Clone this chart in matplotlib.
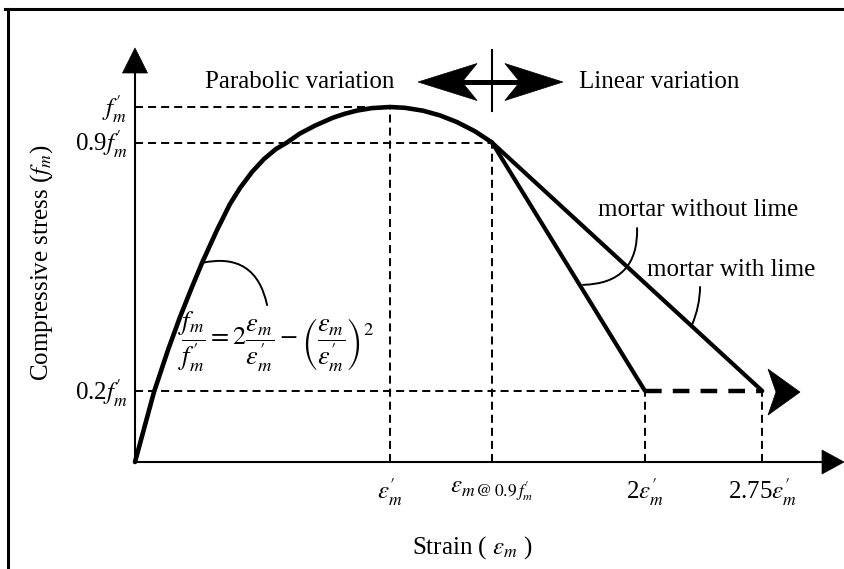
import numpy as np
import matplotlib.pyplot as plt
from matplotlib.patches import Polygon
from matplotlib.lines import Line2D

plt.rcParams['font.family'] = ['Liberation Serif', 'DejaVu Serif']
plt.rcParams['mathtext.fontset'] = 'stix'
plt.rcParams['lines.scale_dashes'] = False

# strain in units of eps'_m (as drawn on the schematic), stress in units of f'_m
curve_strain = [0, 0.0745, 0.1294, 0.1765, 0.2235, 0.2627, 0.3216, 0.3725, 0.4118,
                0.4588, 0.5059, 0.5529, 0.5961, 0.6471, 0.7059, 0.7765, 0.8235, 0.8706,
                0.9294, 1.0, 1.0588, 1.1294, 1.1961, 1.2627, 1.3333, 1.4]
curve_stress = [0, 0.1972, 0.3155, 0.4085, 0.4930, 0.5606, 0.6535, 0.7268, 0.7718,
                0.8169, 0.8535, 0.8817, 0.9, 0.9254, 0.9476, 0.9699, 0.9811, 0.9899,
                0.9969, 1.0, 0.9977, 0.9896, 0.9763, 0.9575, 0.9315, 0.9]

no_lime_strain = [1.4, 2.0]
no_lime_stress = [0.9, 0.2]
lime_strain = [1.4, 2.46]
lime_stress = [0.9, 0.2]
residual_strain = [2.0, 2.46]
residual_stress = [0.2, 0.2]

x_ticks = [1.0, 1.4, 2.0, 2.46]
x_ticklabels = [r"$\varepsilon_m^{\prime}$",
                r"$\varepsilon_{m\,@\,0.9\,f_m^{\prime}}$",
                r"2$\varepsilon_m^{\prime}$",
                r"2.75$\varepsilon_m^{\prime}$"]
x_guide_top = [1.0, 0.9, 0.2, 0.2]

y_ticks = [1.0, 0.9, 0.2]
y_ticklabels = [r"$f_m^{\prime}$", r"0.9$f_m^{\prime}$", r"0.2$f_m^{\prime}$"]
y_guide_end = [1.0, 1.4, 2.0]

# pixel scale of the drawing (px per unit)
SX, SY = 255.0, 355.0

fig = plt.figure(figsize=(8.45, 5.69), dpi=100)
ax = fig.add_axes([0, 0, 1, 1])
ax.set_xlim(-135 / SX, 710 / SX)
ax.set_ylim(-107 / SY, 462 / SY)
ax.axis('off')


def head(tip, d, length, half_w, notch):
    # arrow head given in pixels, tip in data coords, d = direction (+-1, 0) or (0, +-1)
    dx, dy = d
    px, py = -dy, dx
    pts_px = [(0, 0),
              (-length * dx + half_w * px, -length * dy + half_w * py),
              (-notch * dx, -notch * dy),
              (-length * dx - half_w * px, -length * dy - half_w * py)]
    pts = [(tip[0] + a / SX, tip[1] + b / SY) for a, b in pts_px]
    ax.add_patch(Polygon(pts, closed=True, fc='black', ec='black', lw=0.5))


# frame (cropped figure box)
fig.add_artist(Line2D([0.006, 1.0], [1 - 9 / 569, 1 - 9 / 569], color='black', lw=2.2))
fig.add_artist(Line2D([8 / 845, 8 / 845], [0, 1 - 9 / 569], color='black', lw=2.2))

# axes with arrows
ax.plot([0, 0], [0, 1.10], color='black', lw=1.5)
head((0, 414 / SY), (0, 1), 25, 12.5, 25)
ax.plot([0, 2.70], [0, 0], color='black', lw=1.5)
head((709 / SX, 0), (1, 0), 22, 12, 22)

# dashed guides
dash = (0, (5.8, 3.6))
for yt, xe in zip(y_ticks, y_guide_end):
    ax.plot([0, xe], [yt, yt], color='black', lw=1.4, ls=dash)
for xt, yt in zip(x_ticks, x_guide_top):
    ax.plot([xt, xt], [0, yt], color='black', lw=1.4, ls=dash)

# stress-strain curve
ax.plot(curve_strain, curve_stress, color='black', lw=3.3, solid_capstyle='round',
        solid_joinstyle='round')
ax.plot(no_lime_strain, no_lime_stress, color='black', lw=3.0, solid_capstyle='round')
ax.plot(lime_strain, lime_stress, color='black', lw=3.0, solid_capstyle='round')
ax.plot(residual_strain, residual_stress, color='black', lw=3.2, ls=(0, (12, 8)))
head((665 / SX, 0.197), (1, 0), 32, 23, 24)

# tick labels
for xt, lab in zip(x_ticks, x_ticklabels):
    ax.text(xt, -0.085, lab, ha='center', va='center', fontsize=18)
for yt, lab in zip(y_ticks, y_ticklabels):
    ax.text(-0.03, yt - 0.005, lab, ha='right', va='center', fontsize=18)

ax.text(1.322, -0.242, r"Strain ( $\varepsilon_m$ )", ha='center', va='center', fontsize=18)
ax.text(-0.365, 0.563, r"Compressive stress ($f_m$)", ha='center', va='center',
        rotation=90, fontsize=18)

# parabolic / linear split
y_split = 380 / SY
ax.plot([1.4, 1.4], [0.99, 1.16], color='black', lw=1.5)
ax.plot([1.11 + 44 / SX, 1.678 - 43 / SX], [y_split, y_split], color='black', lw=3.6)
head((1.11, y_split), (-1, 0), 59, 18.5, 44)
head((1.678, y_split), (1, 0), 58, 18.5, 43)
ax.text(0.647, y_split, "Parabolic variation", ha='center', va='center', fontsize=18)
ax.text(2.055, y_split, "Linear variation", ha='center', va='center', fontsize=18)

# equation and leaders
ax.text(0.553, 0.338,
        r"$\dfrac{f_m}{f_m^{\prime}}=2\dfrac{\varepsilon_m}{\varepsilon_m^{\prime}}"
        r"-\left(\dfrac{\varepsilon_m}{\varepsilon_m^{\prime}}\right)^2$",
        ha='center', va='center', fontsize=19)
lead = dict(arrowstyle='-', lw=1.4, color='black', shrinkA=0, shrinkB=0)
ax.annotate('', xy=(0.518, 0.442), xytext=(0.263, 0.561),
            arrowprops=dict(lead, connectionstyle='arc3,rad=-0.5'))
ax.annotate('', xy=(1.757, 0.499), xytext=(1.969, 0.659),
            arrowprops=dict(lead, connectionstyle='arc3,rad=-0.5'))
ax.annotate('', xy=(2.184, 0.386), xytext=(2.216, 0.493),
            arrowprops=dict(lead, connectionstyle='arc3,rad=-0.1'))
ax.text(2.208, 0.710, "mortar without lime", ha='center', va='center', fontsize=18)
ax.text(2.337, 0.541, "mortar with lime", ha='center', va='center', fontsize=18)

fig.savefig('out.png', dpi=100, facecolor='white')
